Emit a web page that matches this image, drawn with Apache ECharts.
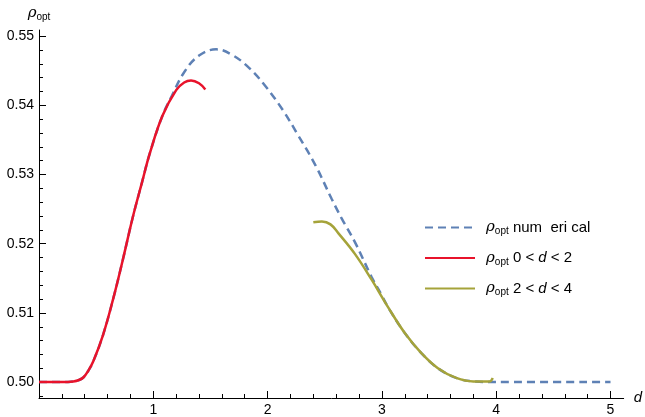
<!DOCTYPE html>
<html>
<head>
<meta charset="utf-8">
<script src="https://cdn.jsdelivr.net/npm/echarts@6/dist/echarts.min.js"></script>
<style>
html,body{margin:0;padding:0;background:#fff;}
#c{width:645px;height:417px;}
</style>
</head>
<body>
<div id="c"></div>
<script>
// ---- data ----
const numD = [0, 0.2, 0.3, 0.35, 0.39, 0.43, 0.475, 0.56, 0.65, 0.735, 0.82, 0.9, 0.97, 1.08, 1.16, 1.27, 1.40, 1.55, 1.69, 1.84, 1.98, 2.13, 2.27, 2.42, 2.56, 2.65, 2.765, 2.91, 3.0, 3.055, 3.20, 3.345, 3.49, 3.65, 3.80, 4.0, 5.0];
const numP = [0.5, 0.5, 0.5001, 0.5003, 0.5007, 0.5016, 0.5030, 0.5068, 0.5121, 0.5178, 0.5238, 0.5288, 0.5331, 0.5385, 0.5413, 0.5448, 0.5472, 0.5481, 0.5473, 0.5454, 0.5428, 0.5394, 0.5356, 0.5313, 0.5265, 0.5236, 0.5202, 0.5152, 0.5125, 0.5108, 0.5071, 0.5042, 0.5020, 0.5006, 0.5001, 0.5, 0.5];
const lowD = [0, 0.2, 0.3, 0.35, 0.39, 0.43, 0.475, 0.56, 0.65, 0.735, 0.82, 0.9, 0.97, 1.08, 1.2, 1.27, 1.33, 1.40, 1.455];
const lowP = [0.5, 0.5, 0.5001, 0.5003, 0.5007, 0.5016, 0.5030, 0.5068, 0.5121, 0.5178, 0.5238, 0.5288, 0.5331, 0.5385, 0.5422, 0.5433, 0.5436, 0.5432, 0.5423];
const highD = [2.40, 2.475, 2.55, 2.62, 2.765, 2.91, 3.055, 3.20, 3.345, 3.49, 3.65, 3.80, 3.94, 3.97];
const highP = [0.5231, 0.5232, 0.5228, 0.5215, 0.5185, 0.5148, 0.5108, 0.5071, 0.5042, 0.5020, 0.5006, 0.5001, 0.5001, 0.5006];

const xMajorTicks = [1, 2, 3, 4, 5];
const xMinorTicks = [0.2, 0.4, 0.6, 0.8, 1.2, 1.4, 1.6, 1.8, 2.2, 2.4, 2.6, 2.8, 3.2, 3.4, 3.6, 3.8, 4.2, 4.4, 4.6, 4.8];
const yMajorTicks = [0.50, 0.51, 0.52, 0.53, 0.54, 0.55];
const yMinorTicks = [0.498, 0.502, 0.504, 0.506, 0.508, 0.512, 0.514, 0.516, 0.518, 0.522, 0.524, 0.526, 0.528, 0.532, 0.534, 0.536, 0.538, 0.542, 0.544, 0.546, 0.548];

const seriesNames = ['numerical', 'low', 'high'];
const legendTexts = {
  numerical: '{r|ρ}{s|opt} num  eri cal',
  low: '{r|ρ}{s|opt} 0 < {i|d} < 2',
  high: '{r|ρ}{s|opt} 2 < {i|d} < 4'
};

const zip = (a, b) => a.map((v, i) => [v, b[i]]);
const FONT = 'Liberation Sans, Arial, sans-serif';
const X_MIN = 0, X_MAX = 5.115, Y_MIN = 0.4977, Y_MAX = 0.5509;

const chart = echarts.init(document.getElementById('c'), null, {renderer: 'canvas'});
const option = {
  animation: false,
  backgroundColor: '#fff',
  grid: {left: 39, right: 18, top: 30, bottom: 17, containLabel: false},
  legend: {
    orient: 'vertical', left: 424, top: 220, padding: 0, itemWidth: 50, itemHeight: 14, itemGap: 14,
    data: seriesNames,
    itemStyle: {opacity: 0, borderWidth: 0},
    formatter: n => legendTexts[n],
    textStyle: {
      fontFamily: FONT, fontSize: 15, color: '#000', padding: [0, 0, 0, 6],
      rich: {
        r: {fontFamily: 'DejaVu Serif', fontStyle: 'italic', fontSize: 15, color: '#000'},
        s: {fontFamily: FONT, fontSize: 10, color: '#000', verticalAlign: 'top', padding: [8, 0, 0, 0]},
        i: {fontFamily: FONT, fontStyle: 'italic', fontSize: 15, color: '#000'}
      }
    }
  },
  xAxis: [{
    type: 'value', min: X_MIN, max: X_MAX,
    name: 'd', nameLocation: 'end', nameGap: 10,
    nameTextStyle: {fontFamily: FONT, fontStyle: 'italic', fontSize: 15, color: '#000', verticalAlign: 'middle', padding: [0, 0, 0, 0]},
    axisLine: {onZero: false, lineStyle: {color: '#000', width: 1}},
    axisTick: {inside: true, length: 7, customValues: xMajorTicks, lineStyle: {color: '#000'}},
    axisLabel: {customValues: xMajorTicks, fontFamily: FONT, fontSize: 14, color: '#000', margin: 5},
    splitLine: {show: false}
  }, {
    type: 'value', min: X_MIN, max: X_MAX, position: 'bottom',
    axisLine: {show: false},
    axisTick: {inside: true, length: 4, customValues: xMinorTicks, lineStyle: {color: '#000'}},
    axisLabel: {show: false},
    splitLine: {show: false}
  }],
  yAxis: [{
    type: 'value', min: Y_MIN, max: Y_MAX,
    name: '{r|ρ}{s|opt}', nameLocation: 'end', nameGap: 8,
    nameTextStyle: {
      align: 'center', padding: [0, 0, 0, 0],
      rich: {
        r: {fontFamily: 'DejaVu Serif', fontStyle: 'italic', fontSize: 15, color: '#000'},
        s: {fontFamily: FONT, fontSize: 10, color: '#000', verticalAlign: 'top', padding: [8, 0, 0, 0]}
      }
    },
    axisLine: {onZero: false, lineStyle: {color: '#000', width: 1}},
    axisTick: {inside: true, length: 7, customValues: yMajorTicks, lineStyle: {color: '#000'}},
    axisLabel: {customValues: yMajorTicks, formatter: v => v.toFixed(2), fontFamily: FONT, fontSize: 14, color: '#000', margin: 5},
    splitLine: {show: false}
  }, {
    type: 'value', min: Y_MIN, max: Y_MAX, position: 'left',
    axisLine: {show: false},
    axisTick: {inside: true, length: 4, customValues: yMinorTicks, lineStyle: {color: '#000'}},
    axisLabel: {show: false},
    splitLine: {show: false}
  }],
  series: [{
    name: 'numerical', type: 'line', data: zip(numD, numP), showSymbol: false, symbol: 'none',
    smooth: 0.4, z: 1,
    lineStyle: {color: '#5E81B5', width: 2.5, type: [8, 5]}, itemStyle: {color: '#5E81B5'}
  }, {
    name: 'low', type: 'line', data: zip(lowD, lowP), showSymbol: false, symbol: 'none',
    smooth: 0.4, z: 3,
    lineStyle: {color: '#E8132B', width: 2.5}, itemStyle: {color: '#E8132B'}
  }, {
    name: 'high', type: 'line', data: zip(highD, highP), showSymbol: false, symbol: 'none',
    smooth: 0.4, z: 2,
    lineStyle: {color: '#A5A33A', width: 2.5}, itemStyle: {color: '#A5A33A'}
  }]
};
chart.setOption(option);
</script>
</body>
</html>
